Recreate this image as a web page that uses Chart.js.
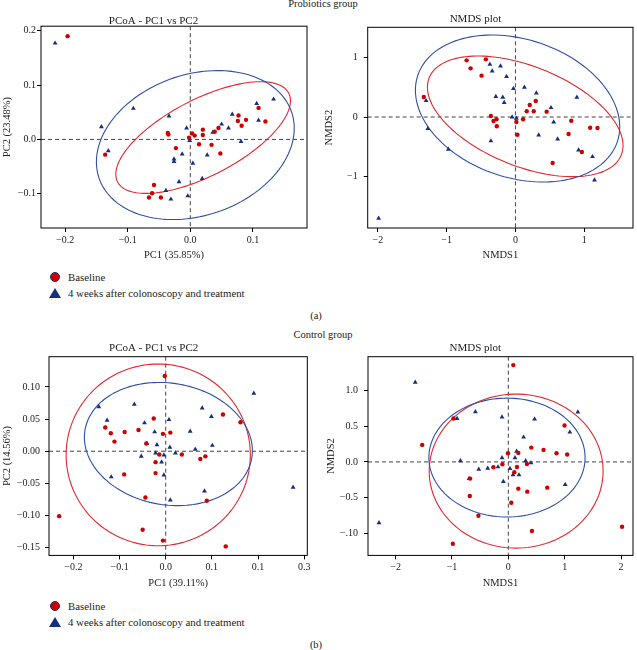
<!DOCTYPE html>
<html>
<head>
<meta charset="utf-8">
<title>Probiotics and control groups: PCoA and NMDS</title>
<script src="https://cdn.jsdelivr.net/npm/chart.js@4.4.1/dist/chart.umd.min.js"></script>
<style>
    body { margin: 0; background: #fff; font-family: "Liberation Serif", "DejaVu Serif", serif; color: #222; }
    #fig { position: relative; width: 637px; height: 650px; overflow: hidden; }
    .panel { position: absolute; }
    .caption { position: absolute; font-size: 10.5px; line-height: 12px; white-space: nowrap; transform: translateX(-50%); }
    .legend-row { position: absolute; left: 48px; height: 14px; display: flex; align-items: center; font-size: 10.8px; white-space: nowrap; }
    .slot { width: 14px; display: flex; justify-content: center; margin-right: 6px; }
    .dot { width: 8px; height: 8px; border-radius: 50%; background: #d00000; border: 1px solid #1b2f6e; }
    .tri { width: 0; height: 0; border-left: 6px solid transparent; border-right: 6px solid transparent; border-bottom: 10px solid #14307f; }
</style>
</head>
<body>
<div id="fig">
    <div class="caption" style="left:323px; top:-2px;">Probiotics group</div>

    <div class="panel" style="left:0; top:0; width:317px; height:262px;"><canvas id="probPcoa"></canvas></div>
    <div class="panel" style="left:317px; top:0; width:320px; height:262px;"><canvas id="probNmds"></canvas></div>

    <div class="legend-row" style="top:270px;"><span class="slot"><span class="dot"></span></span>Baseline</div>
    <div class="legend-row" style="top:286px;"><span class="slot"><span class="tri"></span></span>4 weeks after colonoscopy and treatment</div>
    <div class="caption" style="left:316px; top:310px;">(a)</div>

    <div class="caption" style="left:323px; top:329px;">Control group</div>

    <div class="panel" style="left:0; top:320px; width:317px; height:270px;"><canvas id="ctrlPcoa"></canvas></div>
    <div class="panel" style="left:317px; top:320px; width:320px; height:270px;"><canvas id="ctrlNmds"></canvas></div>

    <div class="legend-row" style="top:599px;"><span class="slot"><span class="dot"></span></span>Baseline</div>
    <div class="legend-row" style="top:615px;"><span class="slot"><span class="tri"></span></span>4 weeks after colonoscopy and treatment</div>
    <div class="caption" style="left:316px; top:639px;">(b)</div>
</div>

<script>
// ---- data: [x, y] per sample ----
const probPcoaBaseline = [
    [-0.196, 0.190], [-0.136, -0.028], [-0.058, -0.084], [-0.061, -0.099], [-0.066, -0.107],
    [-0.047, -0.107], [-0.036, 0.012], [-0.035, 0.009], [-0.023, -0.016], [-0.002, 0.003],
    [0.003, 0.011], [0.007, 0.007], [0.014, -0.009], [0.020, 0.008], [0.020, 0.018],
    [0.034, -0.010], [0.039, 0.014], [0.045, 0.021], [0.048, -0.026], [0.077, 0.044],
    [0.076, 0.034], [0.082, 0.025], [0.089, 0.036], [0.109, 0.058], [0.120, 0.033]
];
const probPcoaAfter = [
    [-0.216, 0.177], [-0.142, 0.023], [-0.131, -0.021], [-0.091, 0.057], [-0.034, 0.043],
    [-0.006, 0.021], [-0.001, -0.002], [-0.026, -0.036], [-0.026, -0.041], [-0.013, -0.027],
    [0.004, -0.044], [-0.018, -0.078], [-0.039, -0.094], [-0.031, -0.110], [-0.004, -0.104],
    [0.019, -0.072], [0.027, -0.029], [0.036, 0.013], [0.050, 0.028], [0.061, 0.021],
    [0.067, 0.046], [0.081, -0.004], [0.106, 0.066], [0.109, 0.035], [0.133, 0.074]
];

const probNmdsBaseline = [
    [-1.333, 0.337], [-0.710, 0.955], [-0.652, 0.820], [-0.430, 0.972], [-0.493, 0.697],
    [-0.357, 0.017], [-0.319, -0.067], [-0.275, -0.039], [-0.271, -0.157], [0.014, -0.084],
    [0.029, -0.298], [0.111, -0.039], [0.164, 0.096], [0.208, 0.202], [0.266, 0.096],
    [0.295, 0.270], [0.454, 0.090], [0.541, -0.775], [0.773, -0.287], [0.812, -0.062],
    [0.966, -0.590], [1.087, -0.180], [1.193, -0.185]
];
const probNmdsAfter = [
    [-1.990, -1.708], [-1.300, 0.275], [-1.275, -0.197], [-0.976, -0.545], [-0.372, 0.888],
    [-0.338, 0.775], [-0.217, 0.860], [-0.130, 0.680], [-0.285, 0.343], [-0.184, 0.331],
    [-0.164, 0.242], [-0.029, 0.478], [-0.048, 0.000], [0.014, -0.022], [-0.357, -0.404],
    [0.130, 0.500], [0.304, 0.404], [0.338, -0.303], [0.517, 0.157], [0.556, -0.084],
    [0.614, -0.371], [0.894, 0.331], [0.918, -0.556], [1.121, -0.669], [1.150, -1.062]
];

const ctrlPcoaBaseline = [
    [-0.231, -0.101], [-0.131, 0.037], [-0.119, 0.028], [-0.111, 0.015], [-0.089, 0.030],
    [-0.090, -0.036], [-0.059, 0.033], [-0.042, 0.012], [-0.044, -0.072], [-0.050, -0.122],
    [-0.026, 0.051], [-0.022, -0.017], [-0.022, -0.034], [-0.014, -0.005], [-0.006, 0.027],
    [-0.002, 0.117], [-0.006, -0.139], [0.010, 0.029], [0.035, -0.005], [0.075, -0.012],
    [0.086, -0.008], [0.089, -0.077], [0.124, 0.057], [0.130, -0.148], [0.162, 0.045]
];
const ctrlPcoaAfter = [
    [-0.145, 0.069], [-0.127, 0.048], [-0.118, -0.040], [-0.068, 0.073], [-0.046, 0.044],
    [-0.041, 0.012], [-0.053, -0.008], [-0.024, 0.030], [-0.019, 0.010], [-0.022, -0.003],
    [-0.009, -0.017], [-0.004, -0.006], [-0.004, -0.037], [0.007, 0.049], [0.009, 0.006],
    [0.010, -0.076], [0.021, -0.003], [0.053, 0.031], [0.064, 0.003], [0.079, 0.067],
    [0.084, -0.062], [0.099, 0.054], [0.101, 0.009], [0.191, 0.090], [0.276, -0.056]
];

const ctrlNmdsBaseline = [
    [-1.528, 0.238], [-0.973, 0.606], [-0.985, -1.142], [-0.678, -0.233], [-0.684, -0.476],
    [-0.531, -0.751], [-0.265, -0.075], [-0.106, -0.033], [-0.006, 0.121], [0.053, -0.569],
    [0.088, 1.352], [0.106, -0.145], [0.153, -0.070], [0.177, 0.126], [0.177, -0.373],
    [0.330, -0.028], [0.336, -0.415], [0.407, 0.200], [0.419, -0.965], [0.625, 0.168],
    [0.690, -0.359], [0.855, 0.121], [0.997, 0.508], [1.044, 0.103], [2.018, -0.904]
];
const ctrlNmdsAfter = [
    [-2.295, -0.849], [-1.652, 1.110], [-0.909, 0.606], [-0.850, 0.014], [-0.696, -0.233],
    [-0.584, 0.699], [-0.525, -0.103], [-0.366, -0.089], [-0.183, -0.070], [-0.112, 0.625],
    [-0.112, 0.056], [-0.088, -0.275], [0.029, -0.093], [0.083, -0.182], [0.118, 0.056],
    [0.147, 0.149], [0.189, -0.182], [0.271, 0.345], [0.307, 0.014], [0.401, -0.014],
    [0.466, 0.597], [1.009, -0.317], [1.091, 0.415], [1.233, 0.695]
];

// confidence ellipses: [centre x, centre y, u x, u y, v x, v y] (conjugate semi-diameters)
const probPcoaEllipseBaseline = [0.0205, 0.0034, 0.1395, 0.0675, 0, 0.0775];
const probPcoaEllipseAfter = [0.008, -0.0104, 0.158, 0.031, 0, 0.1335];
const probNmdsEllipseBaseline = [0.1425, 0.011, 1.4227, -0.4916, 0, 0.890];
const probNmdsEllipseAfter = [0.031, 0.143, 1.486, -0.309, 0, 1.1998];
const ctrlPcoaEllipseBaseline = [-0.0162, -0.0057, 0.1996, 0, 0, 0.1413];
const ctrlPcoaEllipseAfter = [0.0058, 0.0112, 0.182, -0.0104, 0, 0.0952];
const ctrlNmdsEllipseBaseline = [0.1386, -0.128, 1.543, 0, 0, 1.075];
const ctrlNmdsEllipseAfter = [-0.024, 0.0606, 1.386, 0, 0, 0.83];

// ---- axes ----
const probPcoaXTicks = [-0.2, -0.1, 0, 0.1];
const probPcoaXLabels = ['−0.2', '−0.1', '0.0', '0.1'];
const probPcoaYTicks = [-0.1, 0, 0.1, 0.2];
const probPcoaYLabels = ['−0.1', '0.0', '0.1', '0.2'];

const probNmdsXTicks = [-2, -1, 0, 1];
const probNmdsXLabels = ['−2', '−1', '0', '1'];
const probNmdsYTicks = [-1, 0, 1];
const probNmdsYLabels = ['−1', '0', '1'];

const ctrlPcoaXTicks = [-0.2, -0.1, 0, 0.1, 0.2, 0.3];
const ctrlPcoaXLabels = ['−0.2', '−0.1', '0.0', '0.1', '0.1', '0.3'];
const ctrlPcoaYTicks = [-0.15, -0.1, -0.05, 0, 0.05, 0.1];
const ctrlPcoaYLabels = ['−0.15', '−0.10', '−0.05', '0.00', '0.05', '0.10'];

const ctrlNmdsXTicks = [-2, -1, 0, 1, 2];
const ctrlNmdsXLabels = ['−2', '−1', '0', '1', '2'];
const ctrlNmdsYTicks = [-1, -0.5, 0, 0.5, 1];
const ctrlNmdsYLabels = ['−.10', '−0.5', '0.0', '0.5', '1.0'];

const seriesNames = ['Baseline', '4 weeks after colonoscopy and treatment'];

const RED = '#d00000';
const BLUE = '#14307f';
const RED_LINE = '#e0282e';
const BLUE_LINE = '#2f4fa5';
const FONT = '"Liberation Serif", "DejaVu Serif", serif';

const ellipsePlugin = {
    id: 'ellipses',
    beforeDatasetsDraw(chart, args, opts) {
        const { ctx, chartArea, scales: { x, y } } = chart;
        ctx.save();
        ctx.beginPath();
        ctx.rect(chartArea.left, chartArea.top, chartArea.right - chartArea.left, chartArea.bottom - chartArea.top);
        ctx.clip();

        // reference lines through the origin
        ctx.setLineDash([4, 3]);
        ctx.strokeStyle = '#444';
        ctx.lineWidth = 1;
        const x0 = x.getPixelForValue(0);
        const y0 = y.getPixelForValue(0);
        ctx.beginPath();
        ctx.moveTo(x0, chartArea.top);
        ctx.lineTo(x0, chartArea.bottom);
        ctx.moveTo(chartArea.left, y0);
        ctx.lineTo(chartArea.right, y0);
        ctx.stroke();
        ctx.setLineDash([]);

        for (const item of opts.items) {
            const [cx, cy, ux, uy, vx, vy] = item.params;
            ctx.beginPath();
            for (let i = 0; i <= 144; i++) {
                const t = (i / 144) * Math.PI * 2;
                const px = x.getPixelForValue(cx + ux * Math.cos(t) + vx * Math.sin(t));
                const py = y.getPixelForValue(cy + uy * Math.cos(t) + vy * Math.sin(t));
                if (i === 0) {
                    ctx.moveTo(px, py);
                } else {
                    ctx.lineTo(px, py);
                }
            }
            ctx.closePath();
            ctx.strokeStyle = item.color;
            ctx.lineWidth = 1.1;
            ctx.stroke();
        }
        ctx.restore();
    },
    afterDatasetsDraw(chart) {
        const { ctx, chartArea } = chart;
        ctx.save();
        ctx.strokeStyle = '#000';
        ctx.lineWidth = 1;
        ctx.strokeRect(chartArea.left, chartArea.top, chartArea.right - chartArea.left, chartArea.bottom - chartArea.top);
        ctx.restore();
    }
};

const buildAxis = (range, ticks, labels, title, fitSize, isX, tickPadding, titlePadding) => ({
    type: 'linear',
    min: range[0],
    max: range[1],
    afterBuildTicks(scale) {
        scale.ticks = ticks.map((value) => ({ value }));
    },
    afterFit(scale) {
        if (isX) {
            scale.height = fitSize;
        } else {
            scale.width = fitSize;
        }
    },
    grid: { display: true, drawOnChartArea: false, drawTicks: true, tickLength: 4, color: '#000' },
    border: { display: false },
    ticks: {
        autoSkip: false,
        maxRotation: 0,
        padding: tickPadding,
        color: '#222',
        font: { family: FONT, size: 10 },
        callback(value, index) {
            return labels[index];
        }
    },
    title: {
        display: true,
        text: title,
        color: '#222',
        padding: isX ? 0 : { top: titlePadding, bottom: 0 },
        font: { family: FONT, size: 10.5 }
    }
});

const makePanel = (canvasId, cfg) => {
    const ctx = document.getElementById(canvasId);
    new Chart(ctx, {
        type: 'scatter',
        data: {
            datasets: [
                {
                    label: seriesNames[0],
                    data: cfg.baseline,
                    pointStyle: 'circle',
                    pointRadius: 2.2,
                    backgroundColor: RED,
                    borderWidth: 0
                },
                {
                    label: seriesNames[1],
                    data: cfg.after,
                    pointStyle: 'triangle',
                    pointRadius: 2.8,
                    backgroundColor: BLUE,
                    borderWidth: 0
                }
            ]
        },
        options: {
            responsive: true,
            maintainAspectRatio: false,
            animation: false,
            layout: { padding: { left: 0, right: cfg.padRight, top: 0, bottom: 0 } },
            plugins: {
                legend: { display: false },
                tooltip: { enabled: false },
                title: {
                    display: true,
                    text: cfg.title,
                    color: '#222',
                    font: { family: FONT, size: 11, weight: 'normal', lineHeight: 1 },
                    padding: { top: cfg.titleTop, bottom: cfg.titleBottom }
                },
                ellipses: {
                    items: [
                        { params: cfg.ellipseBaseline, color: RED_LINE },
                        { params: cfg.ellipseAfter, color: BLUE_LINE }
                    ]
                }
            },
            scales: {
                x: buildAxis(cfg.xRange, cfg.xTicks, cfg.xLabels, cfg.xTitle, cfg.xAxisHeight, true, 2, 0),
                y: buildAxis(cfg.yRange, cfg.yTicks, cfg.yLabels, cfg.yTitle, cfg.yAxisWidth, false, cfg.yTickPadding, cfg.yTitlePadding)
            }
        },
        plugins: [ellipsePlugin]
    });
};

makePanel('probPcoa', {
    title: 'PCoA - PC1 vs PC2',
    baseline: probPcoaBaseline,
    after: probPcoaAfter,
    ellipseBaseline: probPcoaEllipseBaseline,
    ellipseAfter: probPcoaEllipseAfter,
    xRange: [-0.2385, 0.1864],
    yRange: [-0.163, 0.2083],
    xTicks: probPcoaXTicks,
    xLabels: probPcoaXLabels,
    yTicks: probPcoaYTicks,
    yLabels: probPcoaYLabels,
    xTitle: 'PC1 (35.85%)',
    yTitle: 'PC2 (23.48%)',
    titleTop: 15.2,
    titleBottom: 0,
    padRight: 10,
    xAxisHeight: 34,
    yAxisWidth: 41,
    yTickPadding: 1,
    yTitlePadding: 1
});

makePanel('probNmds', {
    title: 'NMDS plot',
    baseline: probNmdsBaseline,
    after: probNmdsAfter,
    ellipseBaseline: probNmdsEllipseBaseline,
    ellipseAfter: probNmdsEllipseAfter,
    xRange: [-2.149, 1.71],
    yRange: [-1.871, 1.512],
    xTicks: probNmdsXTicks,
    xLabels: probNmdsXLabels,
    yTicks: probNmdsYTicks,
    yLabels: probNmdsYLabels,
    xTitle: 'NMDS1',
    yTitle: 'NMDS2',
    titleTop: 13.5,
    titleBottom: 2.8,
    padRight: 3,
    xAxisHeight: 34,
    yAxisWidth: 50.7,
    yTickPadding: 6,
    yTitlePadding: 6
});

makePanel('ctrlPcoa', {
    title: 'PCoA - PC1 vs PC2',
    baseline: ctrlPcoaBaseline,
    after: ctrlPcoaAfter,
    ellipseBaseline: ctrlPcoaEllipseBaseline,
    ellipseAfter: ctrlPcoaEllipseAfter,
    xRange: [-0.2529, 0.3068],
    yRange: [-0.162, 0.147],
    xTicks: ctrlPcoaXTicks,
    xLabels: ctrlPcoaXLabels,
    yTicks: ctrlPcoaYTicks,
    yLabels: ctrlPcoaYLabels,
    xTitle: 'PC1 (39.11%)',
    yTitle: 'PC2 (14.56%)',
    titleTop: 22.2,
    titleBottom: 3.5,
    padRight: 9.7,
    xAxisHeight: 34.6,
    yAxisWidth: 49,
    yTickPadding: 5,
    yTitlePadding: 1
});

makePanel('ctrlNmds', {
    title: 'NMDS plot',
    baseline: ctrlNmdsBaseline,
    after: ctrlNmdsAfter,
    ellipseBaseline: ctrlNmdsEllipseBaseline,
    ellipseAfter: ctrlNmdsEllipseAfter,
    xRange: [-2.49, 2.212],
    yRange: [-1.305, 1.469],
    xTicks: ctrlNmdsXTicks,
    xLabels: ctrlNmdsXLabels,
    yTicks: ctrlNmdsYTicks,
    yLabels: ctrlNmdsYLabels,
    xTitle: 'NMDS1',
    yTitle: 'NMDS2',
    titleTop: 22.8,
    titleBottom: 2.9,
    padRight: 3.3,
    xAxisHeight: 34.6,
    yAxisWidth: 51,
    yTickPadding: 6,
    yTitlePadding: 8
});
</script>
</body>
</html>
